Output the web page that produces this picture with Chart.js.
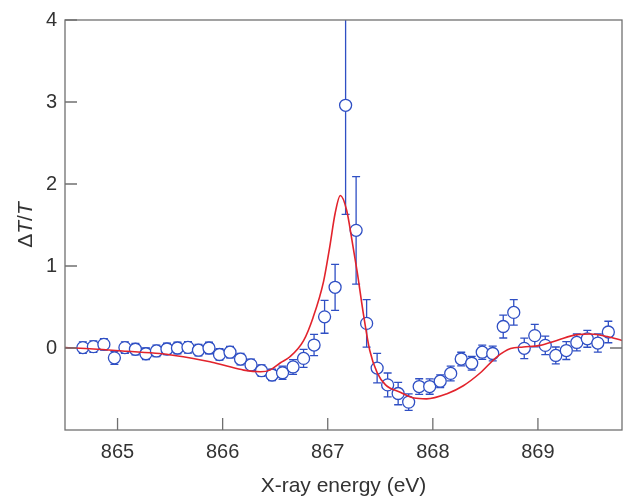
<!DOCTYPE html>
<html>
<head>
<meta charset="utf-8">
<script src="https://cdn.jsdelivr.net/npm/chart.js@4/dist/chart.umd.min.js"></script>
<style>
  html, body { margin: 0; padding: 0; background: #fff; }
  #wrap { width: 640px; height: 499px; position: relative; }
</style>
</head>
<body>
<div id="wrap"><canvas id="chart"></canvas></div>
<script>
// measured points: energy (eV), dT/T, error
const energy = [864.67, 864.77, 864.87, 864.97, 865.07, 865.17, 865.27, 865.37, 865.47, 865.57,
  865.67, 865.77, 865.87, 865.97, 866.07, 866.17, 866.27, 866.37, 866.47, 866.57,
  866.67, 866.77, 866.87, 866.97, 867.07, 867.17, 867.27, 867.37, 867.47, 867.57,
  867.67, 867.77, 867.87, 867.97, 868.07, 868.17, 868.27, 868.37, 868.47, 868.57,
  868.67, 868.77, 868.87, 868.97, 869.07, 869.17, 869.27, 869.37, 869.47, 869.57, 869.67];
const dT = [0.005, 0.017, 0.044, -0.12, 0.005, -0.015, -0.07, -0.036, -0.012, 0.0,
  0.008, -0.027, 0.0, -0.079, -0.051, -0.135, -0.206, -0.277, -0.329, -0.302,
  -0.231, -0.127, 0.036, 0.38, 0.74, 2.96, 1.435, 0.30, -0.245, -0.45,
  -0.555, -0.66, -0.47, -0.47, -0.405, -0.31, -0.135, -0.186, -0.051, -0.067,
  0.262, 0.434, -0.004, 0.151, 0.032, -0.091, -0.031, 0.068, 0.112, 0.06, 0.195];
const dTErr = [0.07, 0.07, 0.07, 0.08, 0.07, 0.07, 0.07, 0.07, 0.07, 0.07,
  0.07, 0.07, 0.07, 0.07, 0.07, 0.07, 0.07, 0.07, 0.07, 0.08,
  0.09, 0.11, 0.13, 0.2, 0.28, 1.33, 0.655, 0.29, 0.18, 0.145,
  0.137, 0.1, 0.095, 0.094, 0.077, 0.09, 0.083, 0.083, 0.087, 0.09,
  0.14, 0.155, 0.125, 0.137, 0.113, 0.103, 0.109, 0.103, 0.103, 0.111, 0.131];

// simulated curve (red)
const simEnergy = [864.5, 864.77, 865.09, 865.4, 865.72, 865.88, 866.04, 866.2, 866.36, 866.45,
  866.55, 866.64, 866.77, 866.86, 866.96, 867.02, 867.07, 867.12, 867.18, 867.23,
  867.28, 867.34, 867.4, 867.47, 867.55, 867.69, 867.82, 867.94, 868.13, 868.29,
  868.45, 868.61, 868.74, 868.86, 869.02, 869.18, 869.37, 869.5, 869.66, 869.8];
const simDT = [0.005, -0.012, -0.04, -0.067, -0.127, -0.167, -0.22, -0.27, -0.29, -0.27,
  -0.18, -0.107, 0.09, 0.37, 0.81, 1.24, 1.64, 1.86, 1.68, 1.32,
  0.93, 0.41, -0.03, -0.3, -0.45, -0.54, -0.61, -0.62, -0.56, -0.46,
  -0.305, -0.107, -0.007, 0.012, 0.032, 0.092, 0.163, 0.17, 0.14, 0.092];

const xTicks = [865, 866, 867, 868, 869];
const yTicks = [0, 1, 2, 3, 4];

const blue = '#2f4fc4';
const red = '#e2232c';
const axisGray = '#707070';
const textColor = '#333333';
const fontFamily = "'Liberation Sans', Arial, sans-serif";

const frameAndErrors = {
  id: 'frameAndErrors',
  beforeDatasetsDraw(chart) {
    const { ctx, chartArea, scales } = chart;
    ctx.save();
    ctx.beginPath();
    ctx.rect(chartArea.left, chartArea.top, chartArea.right - chartArea.left, chartArea.bottom - chartArea.top);
    ctx.clip();
    ctx.strokeStyle = blue;
    ctx.lineWidth = 1.3;
    energy.forEach((e, i) => {
      const px = scales.x.getPixelForValue(e);
      const top = scales.y.getPixelForValue(dT[i] + dTErr[i]);
      const bot = scales.y.getPixelForValue(dT[i] - dTErr[i]);
      ctx.beginPath();
      ctx.moveTo(px, top); ctx.lineTo(px, bot);
      ctx.moveTo(px - 4, top); ctx.lineTo(px + 4, top);
      ctx.moveTo(px - 4, bot); ctx.lineTo(px + 4, bot);
      ctx.stroke();
    });
    ctx.restore();
  },
  afterDraw(chart) {
    const { ctx, chartArea, scales } = chart;
    const { left, right, top, bottom } = chartArea;
    ctx.save();
    ctx.strokeStyle = axisGray;
    ctx.lineWidth = 1.3;
    ctx.strokeRect(left, top, right - left, bottom - top);
    ctx.beginPath();
    xTicks.forEach(v => {
      const px = scales.x.getPixelForValue(v);
      ctx.moveTo(px, bottom); ctx.lineTo(px, bottom - 12);
    });
    yTicks.forEach(v => {
      const py = scales.y.getPixelForValue(v);
      ctx.moveTo(left, py); ctx.lineTo(left + 12, py);
    });
    const zero = scales.y.getPixelForValue(0);
    ctx.moveTo(right, zero); ctx.lineTo(right - 12, zero);
    ctx.stroke();

    // y axis title: ΔT/T with italic T
    const parts = [['Δ', ''], ['T', 'italic '], ['/', ''], ['T', 'italic ']];
    ctx.fillStyle = textColor;
    let total = 0;
    parts.forEach(p => { ctx.font = p[1] + '21px ' + fontFamily; total += ctx.measureText(p[0]).width; });
    ctx.translate(26, (top + bottom) / 2);
    ctx.rotate(-Math.PI / 2);
    ctx.textBaseline = 'middle';
    let cx = -total / 2;
    parts.forEach(p => {
      ctx.font = p[1] + '21px ' + fontFamily;
      ctx.fillText(p[0], cx, 0);
      cx += ctx.measureText(p[0]).width;
    });
    ctx.restore();
  }
};

new Chart(document.getElementById('chart'), {
  type: 'line',
  data: {
    datasets: [
      {
        label: 'Simulation',
        data: simEnergy.map((e, i) => ({ x: e, y: simDT[i] })),
        borderColor: red,
        borderWidth: 1.6,
        pointRadius: 0,
        cubicInterpolationMode: 'monotone',
        fill: false,
        order: 0
      },
      {
        label: 'Data',
        data: energy.map((e, i) => ({ x: e, y: dT[i] })),
        showLine: false,
        pointRadius: 6,
        pointBorderWidth: 1.3,
        pointBorderColor: blue,
        pointBackgroundColor: '#ffffff',
        order: 1
      }
    ]
  },
  options: {
    responsive: true,
    maintainAspectRatio: false,
    animation: false,
    layout: { padding: { top: 12, right: 18, left: 0, bottom: 0 } },
    plugins: {
      legend: { display: false },
      tooltip: { enabled: false }
    },
    scales: {
      x: {
        type: 'linear',
        min: 864.5,
        max: 869.8,
        afterBuildTicks: s => { s.ticks = xTicks.map(v => ({ value: v })); },
        afterFit: s => { s.height = 69; },
        grid: { display: false, drawTicks: false },
        border: { display: false },
        ticks: {
          padding: 10,
          color: textColor,
          font: { size: 20, family: fontFamily },
          callback: v => String(v)
        },
        title: {
          display: true,
          text: 'X-ray energy (eV)',
          color: textColor,
          font: { size: 21, family: fontFamily },
          padding: { top: 6, bottom: 0 }
        }
      },
      y: {
        min: -1,
        max: 4,
        afterBuildTicks: s => { s.ticks = yTicks.map(v => ({ value: v })); },
        afterFit: s => { s.width = 65; },
        grid: { display: false, drawTicks: false },
        border: { display: false },
        ticks: {
          padding: 8,
          color: textColor,
          font: { size: 20, family: fontFamily }
        }
      }
    }
  },
  plugins: [frameAndErrors]
});
</script>
</body>
</html>
